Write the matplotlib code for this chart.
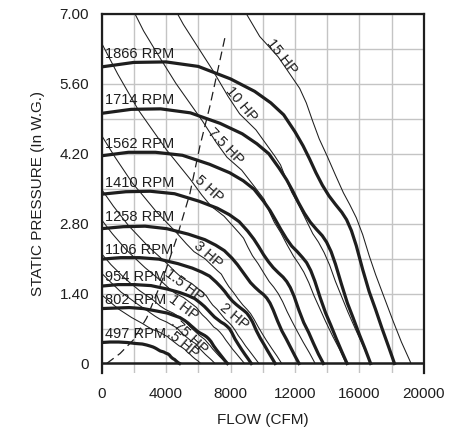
import matplotlib.pyplot as plt

plt.rcParams['font.family'] = ['Liberation Sans', 'DejaVu Sans']

# fan curves, flow in CFM / static pressure in in. W.G.
rpm_names = ['1866 RPM', '1714 RPM', '1562 RPM', '1410 RPM', '1258 RPM',
             '1106 RPM', '954 RPM', '802 RPM', '497 RPM']
rpm_label_p = [6.20, 5.27, 4.40, 3.61, 2.93, 2.27, 1.74, 1.27, 0.59]

q_1866 = [0, 2000, 4000, 6000, 8000, 9500, 10500, 11300, 12000, 12500, 12900, 13300, 13700, 14100, 14500, 14900, 15200, 15500, 15800, 16200, 16600, 17000, 17400, 17800, 18170]
p_1866 = [5.94, 6.03, 6.04, 5.95, 5.70, 5.45, 5.22, 4.98, 4.64, 4.36, 4.10, 3.82, 3.57, 3.36, 3.19, 3.03, 2.88, 2.66, 2.36, 1.88, 1.44, 1.08, 0.70, 0.34, 0]
q_1714 = [0, 1840, 3670, 5510, 7350, 8730, 9640, 10380, 11020, 11480, 11850, 12220, 12580, 12950, 13320, 13690, 13960, 14240, 14510, 14880, 15250, 15610, 15980, 16350, 16690]
p_1714 = [5.01, 5.09, 5.10, 5.02, 4.81, 4.60, 4.40, 4.20, 3.91, 3.68, 3.46, 3.22, 3.01, 2.83, 2.69, 2.56, 2.43, 2.24, 1.99, 1.59, 1.21, 0.91, 0.59, 0.29, 0]
q_1562 = [0, 1670, 3350, 5020, 6700, 7950, 8790, 9460, 10050, 10460, 10800, 11130, 11470, 11800, 12140, 12470, 12720, 12980, 13230, 13560, 13900, 14230, 14570, 14900, 15230]
p_1562 = [4.16, 4.23, 4.23, 4.17, 3.99, 3.82, 3.66, 3.49, 3.25, 3.06, 2.87, 2.68, 2.50, 2.35, 2.24, 2.12, 2.02, 1.86, 1.65, 1.32, 1.01, 0.76, 0.49, 0.24, 0]
q_1410 = [0, 1510, 3020, 4530, 6050, 7180, 7930, 8540, 9070, 9450, 9750, 10050, 10350, 10650, 10960, 11260, 11490, 11710, 11940, 12240, 12540, 12850, 13150, 13450, 13760]
p_1410 = [3.39, 3.44, 3.45, 3.40, 3.25, 3.11, 2.98, 2.84, 2.65, 2.49, 2.34, 2.18, 2.04, 1.92, 1.82, 1.73, 1.64, 1.52, 1.35, 1.07, 0.82, 0.62, 0.40, 0.19, 0]
q_1258 = [0, 1350, 2700, 4050, 5390, 6410, 7080, 7620, 8090, 8430, 8700, 8970, 9240, 9510, 9780, 10050, 10250, 10450, 10650, 10920, 11190, 11460, 11730, 12000, 12250]
p_1258 = [2.70, 2.74, 2.75, 2.70, 2.59, 2.48, 2.37, 2.26, 2.11, 1.98, 1.86, 1.74, 1.62, 1.53, 1.45, 1.38, 1.31, 1.21, 1.07, 0.85, 0.65, 0.49, 0.32, 0.15, 0]
q_1106 = [0, 1190, 2370, 3560, 4740, 5630, 6220, 6700, 7110, 7410, 7650, 7880, 8120, 8360, 8590, 8830, 9010, 9190, 9370, 9600, 9840, 10080, 10310, 10550, 10770]
p_1106 = [2.09, 2.12, 2.12, 2.09, 2.00, 1.91, 1.83, 1.75, 1.63, 1.53, 1.44, 1.34, 1.25, 1.18, 1.12, 1.06, 1.01, 0.93, 0.83, 0.66, 0.51, 0.38, 0.25, 0.12, 0]
q_954 = [0, 1020, 2050, 3070, 4090, 4860, 5370, 5780, 6140, 6390, 6600, 6800, 7010, 7210, 7410, 7620, 7770, 7930, 8080, 8280, 8490, 8690, 8900, 9100, 9290]
p_954 = [1.55, 1.58, 1.58, 1.56, 1.49, 1.42, 1.36, 1.30, 1.21, 1.14, 1.07, 1.00, 0.93, 0.88, 0.83, 0.79, 0.75, 0.70, 0.62, 0.49, 0.38, 0.28, 0.18, 0.09, 0]
q_802 = [0, 860, 1720, 2580, 3440, 4080, 4510, 4860, 5160, 5370, 5540, 5720, 5890, 6060, 6230, 6400, 6530, 6660, 6790, 6960, 7140, 7310, 7480, 7650, 7810]
p_802 = [1.10, 1.11, 1.12, 1.10, 1.05, 1.01, 0.96, 0.92, 0.86, 0.81, 0.76, 0.71, 0.66, 0.62, 0.59, 0.56, 0.53, 0.49, 0.44, 0.35, 0.27, 0.20, 0.13, 0.06, 0]
q_497 = [0, 530, 1070, 1600, 2130, 2530, 2800, 3010, 3200, 3330, 3440, 3540, 3650, 3760, 3860, 3970, 4050, 4130, 4210, 4310, 4420, 4530, 4630, 4740, 4840]
p_497 = [0.42, 0.43, 0.43, 0.42, 0.40, 0.39, 0.37, 0.35, 0.33, 0.31, 0.29, 0.27, 0.25, 0.24, 0.23, 0.21, 0.20, 0.19, 0.17, 0.13, 0.10, 0.08, 0.05, 0.02, 0]

# brake horsepower lines
q_15hp = [8990, 9810, 10960, 12290, 12700, 13100, 13500, 14000, 14500, 15000, 15400, 15800, 16200, 16600, 17000, 17500, 18060, 18600, 19200]
p_15hp = [7.00, 6.55, 6.14, 5.51, 5.22, 4.85, 4.50, 4.15, 3.78, 3.42, 3.18, 2.92, 2.58, 2.16, 1.78, 1.35, 0.87, 0.43, 0]
q_10hp = [4720, 5077, 6904, 7849, 8567, 9575, 10734, 11100, 11440, 11793, 12234, 12662, 13103, 13456, 13808, 14149, 14501, 14854, 15283, 15774, 16253, 16694]
p_10hp = [7.00, 6.79, 5.87, 5.35, 5.00, 4.68, 4.16, 3.98, 3.70, 3.43, 3.17, 2.89, 2.60, 2.43, 2.22, 1.97, 1.65, 1.37, 1.03, 0.67, 0.33, 0]
q_7_5hp = [2080, 2610, 3434, 4613, 6273, 7131, 7784, 8700, 9753, 10085, 10394, 10714, 11115, 11504, 11905, 12225, 12546, 12855, 13175, 13496, 13885, 14332, 14767, 15167]
p_7_5hp = [7.00, 6.66, 6.22, 5.61, 4.85, 4.42, 4.13, 3.87, 3.43, 3.29, 3.05, 2.83, 2.62, 2.38, 2.15, 2.00, 1.83, 1.62, 1.36, 1.13, 0.85, 0.55, 0.28, 0]
q_5hp = [0, 1000, 2280, 3000, 4030, 5480, 6230, 6800, 7600, 8520, 8810, 9080, 9360, 9710, 10050, 10400, 10680, 10960, 11230, 11510, 11790, 12130, 12520, 12900, 13250]
p_5hp = [6.42, 5.80, 5.08, 4.75, 4.28, 3.70, 3.37, 3.15, 2.95, 2.62, 2.51, 2.33, 2.16, 2.00, 1.82, 1.64, 1.53, 1.40, 1.24, 1.04, 0.86, 0.65, 0.42, 0.21, 0]
q_3hp = [0, 843, 1923, 2530, 3399, 4622, 5254, 5735, 6410, 7186, 7430, 7658, 7894, 8189, 8476, 8771, 9007, 9244, 9471, 9707, 9944, 10230, 10559, 10880, 11175]
p_3hp = [4.57, 4.13, 3.61, 3.38, 3.04, 2.63, 2.40, 2.24, 2.10, 1.86, 1.79, 1.66, 1.54, 1.42, 1.29, 1.17, 1.09, 1.00, 0.88, 0.74, 0.61, 0.46, 0.30, 0.15, 0]
q_2hp = [0, 737, 1680, 2210, 2969, 4038, 4590, 5010, 5600, 6277, 6491, 6690, 6896, 7154, 7405, 7663, 7869, 8075, 8274, 8480, 8687, 8937, 9225, 9505, 9763]
p_2hp = [3.49, 3.15, 2.76, 2.58, 2.32, 2.01, 1.83, 1.71, 1.60, 1.42, 1.36, 1.26, 1.17, 1.09, 0.99, 0.89, 0.83, 0.76, 0.67, 0.56, 0.47, 0.35, 0.23, 0.11, 0]
q_1_5hp = [0, 669, 1526, 2008, 2698, 3668, 4170, 4552, 5087, 5703, 5897, 6078, 6266, 6500, 6727, 6962, 7149, 7337, 7517, 7705, 7892, 8120, 8381, 8635, 8870]
p_1_5hp = [2.88, 2.60, 2.28, 2.13, 1.92, 1.66, 1.51, 1.41, 1.32, 1.17, 1.12, 1.04, 0.97, 0.90, 0.82, 0.73, 0.69, 0.63, 0.56, 0.47, 0.39, 0.29, 0.19, 0.09, 0]
q_1hp = [0, 585, 1333, 1754, 2357, 3205, 3643, 3977, 4444, 4982, 5152, 5310, 5474, 5678, 5877, 6082, 6246, 6409, 6567, 6731, 6895, 7094, 7322, 7544, 7749]
p_1hp = [2.20, 1.98, 1.74, 1.62, 1.46, 1.27, 1.15, 1.08, 1.01, 0.90, 0.86, 0.80, 0.74, 0.68, 0.62, 0.56, 0.52, 0.48, 0.42, 0.36, 0.29, 0.22, 0.14, 0.07, 0]
q_75hp = [0, 531, 1211, 1594, 2141, 2912, 3310, 3613, 4038, 4527, 4681, 4824, 4973, 5159, 5340, 5526, 5674, 5823, 5967, 6115, 6264, 6445, 6652, 6854, 7040]
p_75hp = [1.81, 1.64, 1.43, 1.34, 1.21, 1.04, 0.95, 0.89, 0.83, 0.74, 0.71, 0.66, 0.61, 0.56, 0.51, 0.46, 0.43, 0.40, 0.35, 0.29, 0.24, 0.18, 0.12, 0.06, 0]
q_5hp_small = [0, 464, 1058, 1393, 1871, 2544, 2892, 3157, 3528, 3955, 4090, 4215, 4345, 4507, 4665, 4828, 4958, 5088, 5213, 5343, 5473, 5631, 5812, 5988, 6151]
p_5hp_small = [1.38, 1.25, 1.09, 1.02, 0.92, 0.80, 0.73, 0.68, 0.64, 0.56, 0.54, 0.50, 0.47, 0.43, 0.39, 0.35, 0.33, 0.30, 0.27, 0.22, 0.19, 0.14, 0.09, 0.05, 0]

hp_names = ['15 HP', '10 HP', '7.5 HP', '5 HP', '3 HP', '2 HP', '1.5 HP', '1 HP', '.75 HP', '.5 HP']
hp_label_q = [11150, 8685, 7700, 6660, 6600, 8250, 5140, 5060, 5420, 5010]
hp_label_p = [6.15, 5.20, 4.35, 3.50, 2.17, 0.94, 1.57, 1.11, 0.55, 0.39]
hp_label_rot = [-52, -50, -46, -42, -41, -40, -37, -37, -43, -40]

# dashed line
q_dash = [320, 1150, 1970, 2800, 3830, 4650, 5480, 6100, 6720, 7650]
p_dash = [0.0, 0.20, 0.47, 0.91, 1.72, 2.50, 3.40, 4.35, 5.15, 6.52]

fan_curves = [(q_1866, p_1866), (q_1714, p_1714), (q_1562, p_1562), (q_1410, p_1410),
              (q_1258, p_1258), (q_1106, p_1106), (q_954, p_954), (q_802, p_802),
              (q_497, p_497)]
hp_lines = [(q_15hp, p_15hp), (q_10hp, p_10hp), (q_7_5hp, p_7_5hp), (q_5hp, p_5hp),
            (q_3hp, p_3hp), (q_2hp, p_2hp), (q_1_5hp, p_1_5hp), (q_1hp, p_1hp),
            (q_75hp, p_75hp), (q_5hp_small, p_5hp_small)]

ink = '#1e1e1e'

fig = plt.figure(figsize=(4.65, 4.37), dpi=100)
ax = fig.add_axes([0.2183, 0.1465, 0.6935, 0.8215])

ax.set_xlim(0, 20000)
ax.set_ylim(-0.19, 7.0)
ax.set_xticks([0, 4000, 8000, 12000, 16000, 20000])
ax.set_xticks(range(0, 20001, 2000), minor=True)
ax.set_yticks([0, 1.4, 2.8, 4.2, 5.6, 7.0])
ax.set_yticklabels(['0', '1.40', '2.80', '4.20', '5.60', '7.00'])
ax.set_yticks([0.7 * i for i in range(11)], minor=True)
ax.grid(which='both', color='#c4c4c4', linewidth=1.0)
ax.set_axisbelow(True)
ax.tick_params(which='both', length=0, labelsize=11, colors=ink)
ax.tick_params(axis='x', pad=10)
ax.tick_params(axis='y', pad=9)

for side in ['left', 'top', 'right']:
    ax.spines[side].set_color(ink)
    ax.spines[side].set_linewidth(1.6)
ax.spines['bottom'].set_visible(False)
ax.axhline(0, color=ink, linewidth=1.8, zorder=5)

for q, p in hp_lines:
    ax.plot(q, p, color=ink, linewidth=0.75, zorder=3)

ax.plot(q_dash, p_dash, color=ink, linewidth=0.9, linestyle=(0, (7, 4)), zorder=3)

for q, p in fan_curves:
    ax.plot(q, p, color=ink, linewidth=2.3, solid_joinstyle='round', zorder=4)

for name, y in zip(rpm_names, rpm_label_p):
    ax.text(200, y, name, fontsize=10.5, color=ink, ha='left', va='center', zorder=6)

for name, x, y, rot in zip(hp_names, hp_label_q, hp_label_p, hp_label_rot):
    ax.text(x, y, name, fontsize=10.5, color=ink, ha='center', va='center',
            rotation=rot, rotation_mode='anchor', zorder=6)

ax.set_xlabel('FLOW (CFM)', fontsize=11, color=ink, labelpad=9)
ax.set_ylabel('STATIC PRESSURE (In W.G.)', fontsize=11, color=ink, labelpad=10)

fig.savefig('out.png', dpi=100)
